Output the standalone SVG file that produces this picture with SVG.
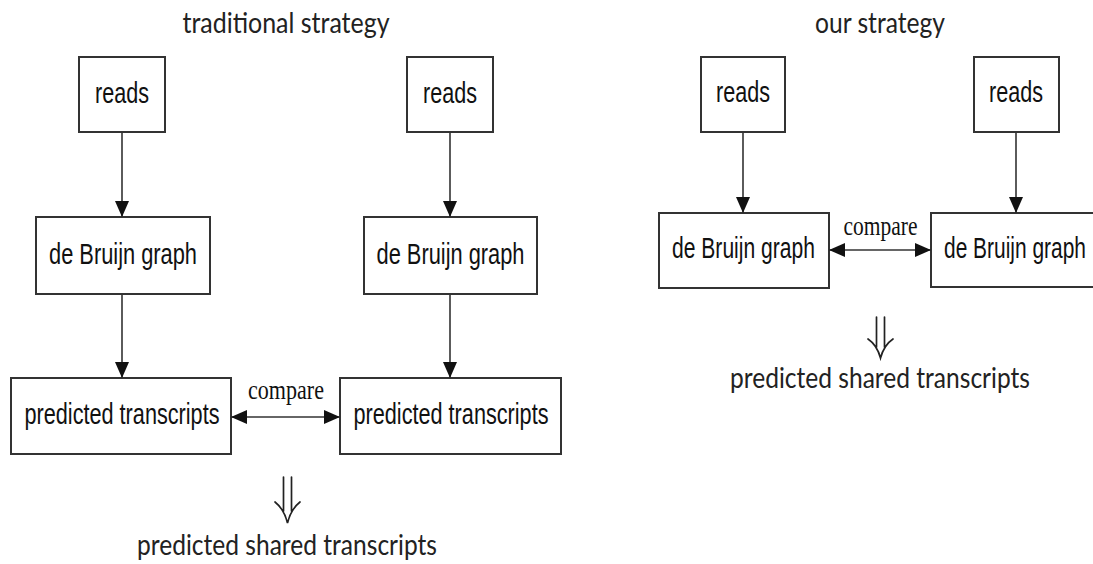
<svg xmlns="http://www.w3.org/2000/svg" width="1093" height="564" viewBox="0 0 1093 564">
  <style>
    .box { fill: #ffffff; stroke: #333333; stroke-width: 2; }
    .lbl { font-family: "Liberation Sans", Arial, sans-serif; font-size: 29px; fill: #111111; text-anchor: middle; }
    .ttl { font-family: Lato, "DejaVu Sans", sans-serif; font-size: 29px; fill: #222222; text-anchor: middle; }
    .cmp { font-family: "Liberation Serif", "Times New Roman", serif; font-size: 27px; fill: #111111; text-anchor: middle; }
    .edge { fill: none; stroke: #333333; stroke-width: 1.6; }
    .imp { fill: none; stroke: #222222; stroke-width: 1.7; stroke-linecap: round; }
  </style>
  <defs>
    <marker id="ah" viewBox="0 0 16 14" refX="16" refY="7" markerWidth="16" markerHeight="14" markerUnits="userSpaceOnUse" orient="auto-start-reverse">
      <path d="M0,0 L16,7 L0,14 z" fill="#111111"/>
    </marker>
  </defs>

  <!-- headings -->
  <text class="ttl" x="286" y="33" textLength="207" lengthAdjust="spacingAndGlyphs">traditional strategy</text>
  <text class="ttl" x="880" y="33" textLength="130" lengthAdjust="spacingAndGlyphs">our strategy</text>

  <!-- traditional strategy: left column -->
  <g id="readsA">
    <rect class="box" x="79" y="57" width="86" height="75"/>
    <text class="lbl" x="122" y="103" textLength="54" lengthAdjust="spacingAndGlyphs">reads</text>
  </g>
  <g id="dbgA">
    <rect class="box" x="36" y="217" width="174" height="77"/>
    <text class="lbl" x="123" y="264" textLength="148" lengthAdjust="spacingAndGlyphs">de Bruijn graph</text>
  </g>
  <g id="predA">
    <rect class="box" x="11" y="378" width="220" height="76"/>
    <text class="lbl" x="122" y="424" textLength="195" lengthAdjust="spacingAndGlyphs">predicted transcripts</text>
  </g>

  <!-- traditional strategy: right column -->
  <g id="readsB">
    <rect class="box" x="407" y="57" width="86" height="75"/>
    <text class="lbl" x="450" y="103" textLength="54" lengthAdjust="spacingAndGlyphs">reads</text>
  </g>
  <g id="dbgB">
    <rect class="box" x="364" y="217" width="173" height="77"/>
    <text class="lbl" x="450.5" y="264" textLength="148" lengthAdjust="spacingAndGlyphs">de Bruijn graph</text>
  </g>
  <g id="predB">
    <rect class="box" x="340" y="378" width="221" height="76"/>
    <text class="lbl" x="451" y="424" textLength="195" lengthAdjust="spacingAndGlyphs">predicted transcripts</text>
  </g>

  <!-- our strategy -->
  <g id="readsC">
    <rect class="box" x="701" y="57" width="84" height="75"/>
    <text class="lbl" x="743" y="102" textLength="54" lengthAdjust="spacingAndGlyphs">reads</text>
  </g>
  <g id="readsD">
    <rect class="box" x="974" y="57" width="85" height="75"/>
    <text class="lbl" x="1016" y="102" textLength="54" lengthAdjust="spacingAndGlyphs">reads</text>
  </g>
  <g id="dbgC">
    <rect class="box" x="659" y="213" width="170" height="75"/>
    <text class="lbl" x="743.5" y="258" textLength="143" lengthAdjust="spacingAndGlyphs">de Bruijn graph</text>
  </g>
  <g id="dbgD">
    <!-- box runs past the right edge of the canvas -->
    <rect class="box" x="931" y="213" width="200" height="74"/>
    <text class="lbl" x="1015" y="258" textLength="142" lengthAdjust="spacingAndGlyphs">de Bruijn graph</text>
  </g>

  <!-- connectors -->
  <g id="connectors">
    <line class="edge" x1="122" y1="132" x2="122" y2="217" marker-end="url(#ah)"/>
    <line class="edge" x1="122" y1="294" x2="122" y2="378" marker-end="url(#ah)"/>
    <line class="edge" x1="450" y1="132" x2="450" y2="217" marker-end="url(#ah)"/>
    <line class="edge" x1="450" y1="294" x2="450" y2="378" marker-end="url(#ah)"/>
    <line class="edge" x1="231" y1="417" x2="340" y2="417" marker-start="url(#ah)" marker-end="url(#ah)"/>
    <text class="cmp" x="286" y="399" textLength="76" lengthAdjust="spacingAndGlyphs">compare</text>

    <line class="edge" x1="743" y1="132" x2="743" y2="213" marker-end="url(#ah)"/>
    <line class="edge" x1="1016" y1="132" x2="1016" y2="213" marker-end="url(#ah)"/>
    <line class="edge" x1="829" y1="250" x2="931" y2="250" marker-start="url(#ah)" marker-end="url(#ah)"/>
    <text class="cmp" x="880.5" y="235" textLength="74" lengthAdjust="spacingAndGlyphs">compare</text>
  </g>

  <!-- implication arrows and results -->
  <g id="resultA">
    <path class="imp" d="M283.5,477 V511 M291.5,477 V511 M275,502 Q284,509 287.5,523 Q291,509 300,502"/>
    <text class="ttl" x="287" y="555" textLength="300" lengthAdjust="spacingAndGlyphs">predicted shared transcripts</text>
  </g>
  <g id="resultB">
    <path class="imp" d="M876.5,317 V347 M884.5,317 V347 M868,339 Q877,345 880.5,358 Q884,345 893,339"/>
    <text class="ttl" x="880" y="388" textLength="300" lengthAdjust="spacingAndGlyphs">predicted shared transcripts</text>
  </g>
</svg>
